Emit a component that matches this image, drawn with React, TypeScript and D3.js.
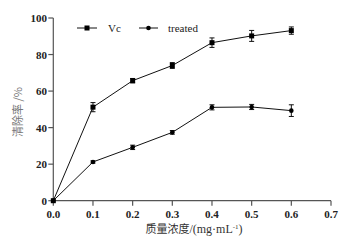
import React from "react";
import * as d3 from "d3";

const concentrations = [0, 0.1, 0.2, 0.3, 0.4, 0.5, 0.6];
const vcValues = [0, 51.2, 65.7, 74.0, 86.5, 90.2, 93.1];
const vcErrors = [0, 2.5, 1.2, 1.6, 2.6, 3.0, 2.0];
const treatedValues = [0, 21.2, 29.2, 37.4, 51.1, 51.3, 49.3];
const treatedErrors = [0, 0.6, 1.2, 1.0, 1.4, 1.4, 3.2];
const xTicks = [0, 0.1, 0.2, 0.3, 0.4, 0.5, 0.6, 0.7];
const yTicks = [0, 20, 40, 60, 80, 100];

export default function App() {
  const W = 352, H = 241;
  const x = d3.scaleLinear().domain([0, 0.7]).range([53.3, 331]);
  const y = d3.scaleLinear().domain([0, 100]).range([200.7, 18]);
  const line = d3.line<number>().x((_, i) => x(concentrations[i])).y((v) => y(v));
  const axisColor = "#555";
  const serif = "'Liberation Serif', 'DejaVu Serif', serif";
  const cjk = "'Noto Sans CJK SC', sans-serif";

  const series = [
    { vals: vcValues, errs: vcErrors, shape: "square" },
    { vals: treatedValues, errs: treatedErrors, shape: "circle" },
  ];

  const marker = (shape: string, cx: number, cy: number, key: string) =>
    shape === "square" ? (
      <rect key={key} x={cx - 2.5} y={cy - 2.5} width={5} height={5} fill="#000" />
    ) : (
      <circle key={key} cx={cx} cy={cy} r={2.3} fill="#000" />
    );

  return (
    <svg width={W} height={H} style={{ position: "absolute", left: 0, top: 0, background: "#fff" }}>
      {/* axes */}
      <line x1={x(0)} x2={x(0.7)} y1={y(0)} y2={y(0)} stroke={axisColor} strokeWidth={1.2} />
      <line x1={x(0)} x2={x(0)} y1={y(0)} y2={y(100)} stroke={axisColor} strokeWidth={1.2} />
      {xTicks.map((t) => (
        <g key={"xt" + t}>
          <line x1={x(t)} x2={x(t)} y1={y(0)} y2={y(0) + 5} stroke={axisColor} strokeWidth={1.2} />
          <text x={x(t)} y={218} textAnchor="middle" fontFamily={serif} fontWeight="bold" fontSize={11} fill="#222">
            {t.toFixed(1)}
          </text>
        </g>
      ))}
      {yTicks.map((t) => (
        <g key={"yt" + t}>
          <line x1={x(0) - 5} x2={x(0)} y1={y(t)} y2={y(t)} stroke={axisColor} strokeWidth={1.2} />
          <text x={47} y={y(t) + 4} textAnchor="end" fontFamily={serif} fontWeight="bold" fontSize={11} fill="#222">
            {t}
          </text>
        </g>
      ))}
      {/* axis titles */}
      <text x={194} y={233} textAnchor="middle" fontFamily={cjk} fontSize={11} fill="#333">
        质量浓度
        <tspan fontFamily={serif} fontSize={12}>/(mg·mL</tspan>
        <tspan fontFamily={serif} dy={-4} fontSize={7}>-1</tspan>
        <tspan fontFamily={serif} fontSize={12} dy={4}>)</tspan>
      </text>
      <text
        transform={`translate(22,112) rotate(-90)`}
        textAnchor="middle"
        fontFamily={cjk}
        fontSize={11}
        fill="#777"
      >
        清除率 /%
      </text>
      {/* series */}
      {series.map((s, si) => (
        <g key={"s" + si}>
          <path d={line(s.vals) || ""} fill="none" stroke="#111" strokeWidth={1} />
          {s.vals.map((v, i) => {
            const cx = x(concentrations[i]);
            const e = s.errs[i];
            if (e <= 0) return null;
            return (
              <g key={"e" + i} stroke="#111" strokeWidth={1}>
                <line x1={cx} x2={cx} y1={y(v - e)} y2={y(v + e)} />
                <line x1={cx - 2.5} x2={cx + 2.5} y1={y(v - e)} y2={y(v - e)} />
                <line x1={cx - 2.5} x2={cx + 2.5} y1={y(v + e)} y2={y(v + e)} />
              </g>
            );
          })}
          {s.vals.map((v, i) => marker(s.shape, x(concentrations[i]), y(v), "m" + i))}
        </g>
      ))}
      {/* legend */}
      <line x1={77} x2={97} y1={28} y2={28} stroke="#111" strokeWidth={1} />
      {marker("square", 87, 28, "lg1")}
      <text x={108} y={32} fontFamily={serif} fontSize={11} fill="#222">Vc</text>
      <line x1={139} x2={158} y1={28} y2={28} stroke="#111" strokeWidth={1} />
      {marker("circle", 148.5, 28, "lg2")}
      <text x={168} y={32} fontFamily={serif} fontSize={11} fill="#222">treated</text>
    </svg>
  );
}
